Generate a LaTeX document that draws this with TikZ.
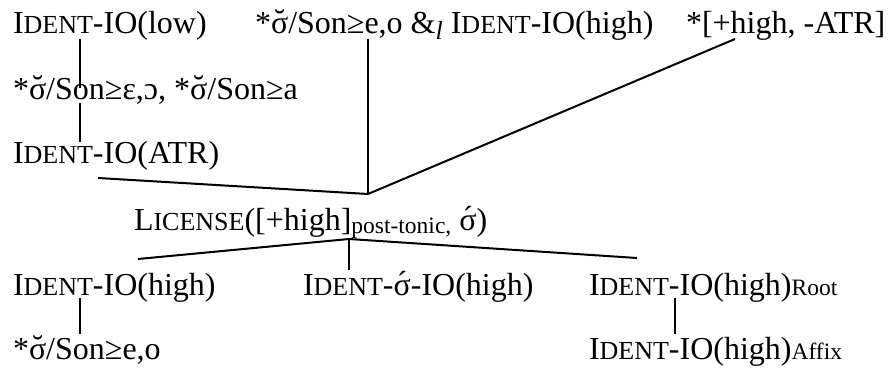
\documentclass[tikz,border=0pt]{standalone}
\usepackage{fontspec}
\setmainfont{Liberation Serif}
\usepackage{tikz}
\newcommand{\smc}[1]{{\fontsize{26}{26}\selectfont #1}}
\newcommand{\lowsub}[2]{\raisebox{-#1}{\fontsize{23.5}{23.5}\selectfont #2}}
\newcommand{\flatsub}[1]{{\fontsize{23.5}{23.5}\selectfont #1}}
\newcommand{\sbreve}{\accent"02D8 σ}
\newcommand{\sacute}{\accent"00B4 σ}

\begin{document}
\begin{tikzpicture}
[x=1pt,y=1pt,line width=2pt,every node/.style={anchor=base west,inner sep=0pt,font=\fontsize{32}{36}\selectfont}]
\useasboundingbox (0,0) rectangle (888,368);
\node (low) at (12,335){I\smc{DENT}-IO(low)};
\node (conj) at (254,335){*\sbreve/Son≥e,o \&\raisebox{-6pt}{\fontsize{26}{26}\selectfont\itshape l} I\smc{DENT}-IO(high)};
\node (atrminus) at (685,335){*[+high, -ATR]};
\node (sonlow) at (12,269){*\sbreve/Son≥ε,ɔ, *\sbreve/Son≥a};
\node (atr) at (12,205){I\smc{DENT}-IO(ATR)};
\node (lic) at (133,138){L\smc{ICENSE}([+high]\lowsub{3pt}{post-tonic,} \sacute)};
\node (high) at (12,73){I\smc{DENT}-IO(high)};
\node (highacc) at (302,73){I\smc{DENT}-\sacute-IO(high)};
\node (root) at (588,73){I\smc{DENT}-IO(high)\flatsub{Root}};
\node (sonhigh) at (12,9){*\sbreve/Son≥e,o};
\node (affix) at (588,9){I\smc{DENT}-IO(high)\flatsub{Affix}};
\coordinate (up) at (368,174);
\coordinate (down) at (349,129);
\draw ([shift={(68pt,-6pt)}]low.base west)--([shift={(68pt,11pt)}]sonlow.base west);
\draw ([shift={(68pt,-4pt)}]sonlow.base west)--([shift={(68pt,21pt)}]atr.base west);
\draw ([shift={(86pt,-15pt)}]atr.base west)--(up);
\draw (up)--([shift={(114pt,-6pt)}]conj.base west);
\draw (up)--([shift={(50pt,-6pt)}]atrminus.base west);
\draw (down)--([shift={(126pt,36pt)}]high.base west);
\draw (down)--([shift={(47pt,25pt)}]highacc.base west);
\draw (down)--([shift={(49pt,37pt)}]root.base west);
\draw ([shift={(68pt,-3pt)}]high.base west)--([shift={(68pt,25pt)}]sonhigh.base west);
\draw ([shift={(87pt,-3pt)}]root.base west)--([shift={(87pt,25pt)}]affix.base west);
\end{tikzpicture}
\end{document}
